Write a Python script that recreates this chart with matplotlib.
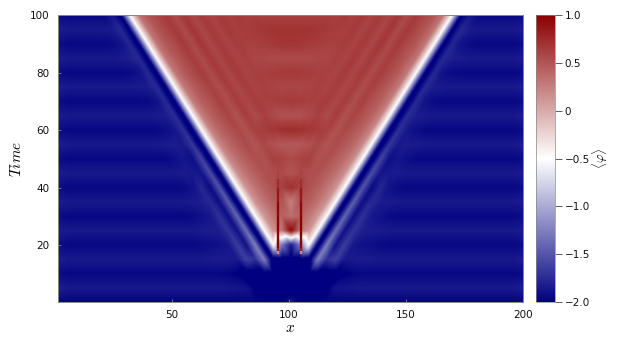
import numpy as np
import matplotlib
matplotlib.use("Agg")
import matplotlib.pyplot as plt
from matplotlib.collections import LineCollection
from matplotlib.colors import LinearSegmentedColormap, Normalize
from matplotlib.tri import Triangulation, LinearTriInterpolator

times = [100, 95, 90, 85, 80, 75, 70, 65, 60, 55, 50, 45, 40, 35, 30, 25, 20, 15, 10, 5, 0]
# left half of the symmetric field, x from 1 to 100.5 (27 columns)
field_left = [
 [-1.93,-1.95,-1.95,-1.95,-1.95,-1.95,-1.86,-2.05,-.5,.32,.5,.58,.66,.56,.68,.58,.66,.6,.66,.62,.66,.62,.64,.62,.62,.62,.62],
 [-1.82,-1.85,-1.85,-1.85,-1.85,-1.85,-1.84,-1.76,-2.05,-.5,.3,.48,.58,.66,.56,.68,.58,.66,.6,.66,.62,.64,.66,.68,.7,.7,.7],
 [-1.93,-1.95,-1.95,-1.95,-1.95,-1.95,-1.94,-1.9,-1.78,-2.08,-.5,.3,.48,.56,.66,.56,.68,.58,.66,.6,.64,.62,.62,.64,.66,.68,.68],
 [-1.82,-1.85,-1.85,-1.85,-1.85,-1.85,-1.85,-1.84,-1.82,-1.76,-2.08,-.5,.3,.46,.56,.64,.56,.66,.58,.66,.6,.62,.58,.58,.56,.56,.56],
 [-1.93,-1.95,-1.95,-1.95,-1.95,-1.95,-1.95,-1.95,-1.94,-1.9,-1.77,-2.1,-.5,.28,.46,.56,.64,.56,.66,.58,.66,.6,.62,.62,.64,.66,.66],
 [-1.82,-1.85,-1.85,-1.85,-1.85,-1.85,-1.85,-1.85,-1.85,-1.84,-1.84,-1.75,-2.1,-.5,.28,.44,.54,.62,.54,.64,.58,.64,.6,.62,.6,.58,.58],
 [-1.93,-1.95,-1.95,-1.95,-1.95,-1.95,-1.95,-1.95,-1.95,-1.95,-1.94,-1.9,-1.76,-2.12,-.5,.26,.44,.52,.62,.54,.64,.58,.64,.62,.62,.64,.66],
 [-1.82,-1.85,-1.85,-1.85,-1.85,-1.85,-1.85,-1.85,-1.85,-1.85,-1.85,-1.84,-1.83,-1.74,-2.12,-.5,.24,.42,.52,.6,.52,.64,.56,.62,.56,.52,.52],
 [-1.93,-1.95,-1.95,-1.95,-1.95,-1.95,-1.95,-1.95,-1.95,-1.95,-1.95,-1.95,-1.92,-1.87,-1.72,-2.15,-.5,.22,.4,.5,.58,.52,.62,.64,.68,.72,.74],
 [-1.82,-1.85,-1.85,-1.85,-1.85,-1.85,-1.85,-1.85,-1.85,-1.85,-1.85,-1.85,-1.84,-1.83,-1.85,-1.68,-2.15,-.5,.2,.38,.48,.56,.5,.58,.52,.48,.48],
 [-1.93,-1.95,-1.95,-1.95,-1.95,-1.95,-1.95,-1.95,-1.95,-1.95,-1.95,-1.95,-1.95,-1.92,-1.87,-1.92,-1.6,-2.18,-.5,.18,.36,.46,.54,.52,.62,.6,.56],
 [-1.82,-1.85,-1.85,-1.85,-1.85,-1.85,-1.85,-1.85,-1.85,-1.85,-1.85,-1.85,-1.85,-1.85,-1.84,-1.85,-1.88,-1.55,-2.18,-.5,.16,.34,.44,.52,.54,.56,.5],
 [-1.93,-1.95,-1.95,-1.95,-1.95,-1.95,-1.95,-1.95,-1.95,-1.95,-1.95,-1.95,-1.95,-1.95,-1.94,-1.9,-1.78,-1.94,-1.5,-2.2,-.5,.14,.32,.44,.52,.62,.72],
 [-1.82,-1.85,-1.85,-1.85,-1.85,-1.85,-1.85,-1.85,-1.85,-1.85,-1.85,-1.85,-1.85,-1.85,-1.85,-1.84,-1.83,-1.76,-1.92,-1.45,-2.2,-.5,.14,.32,.44,.5,.25],
 [-1.93,-1.95,-1.95,-1.95,-1.95,-1.95,-1.95,-1.95,-1.95,-1.95,-1.95,-1.95,-1.95,-1.95,-1.95,-1.94,-1.9,-1.86,-1.72,-1.92,-1.4,-2.2,-.5,.1,.3,.42,.35],
 [-1.82,-1.85,-1.85,-1.85,-1.85,-1.85,-1.85,-1.85,-1.85,-1.85,-1.85,-1.85,-1.85,-1.85,-1.85,-1.85,-1.84,-1.83,-1.82,-1.7,-1.9,-1.35,-2.2,-.5,.14,.32,.95],
 [-1.93,-1.95,-1.95,-1.95,-1.95,-1.95,-1.95,-1.95,-1.95,-1.95,-1.95,-1.95,-1.95,-1.95,-1.95,-1.95,-1.94,-1.92,-1.9,-1.86,-1.65,-1.9,-1.25,-2.2,-.5,-1.3,-1.85],
 [-1.82,-1.85,-1.85,-1.85,-1.85,-1.85,-1.85,-1.85,-1.85,-1.85,-1.85,-1.85,-1.85,-1.85,-1.85,-1.85,-1.85,-1.84,-1.83,-1.84,-1.85,-1.62,-1.72,-1.25,-2.2,-2.1,-2.1],
 [-1.93,-1.95,-1.95,-1.95,-1.95,-1.95,-1.95,-1.95,-1.95,-1.95,-1.95,-1.95,-1.95,-1.95,-1.95,-1.95,-1.95,-1.95,-1.95,-1.97,-2.0,-2.1,-2.1,-2.1,-2.1,-2.1,-2.1],
 [-1.82,-1.85,-1.85,-1.85,-1.85,-1.85,-1.85,-1.85,-1.85,-1.85,-1.85,-1.85,-1.85,-1.85,-1.85,-1.85,-1.85,-1.85,-1.85,-1.86,-1.87,-1.88,-2.0,-2.1,-2.1,-2.1,-2.1],
 [-1.96,-1.98,-1.98,-1.98,-1.98,-1.98,-1.98,-1.98,-1.98,-1.98,-1.98,-1.98,-1.98,-1.98,-1.98,-1.98,-1.98,-1.98,-1.98,-1.98,-1.98,-1.98,-1.98,-2.0,-2.0,-2.0,-1.88],
]
# thin vertical spikes
spike_positions = [95.2, 105.2]
spike_times = [17, 18, 19, 20, 25, 30, 35, 40, 43, 46]
spike_values = [-0.5, 0.2, 0.8, 0.95, 1.0, 1.0, 0.95, 0.85, 0.72, 0.6]

x_ticks = [50, 100, 150, 200]
y_ticks = [20, 40, 60, 80, 100]
bar_ticks = [1.0, 0.5, 0, -0.5, -1.0, -1.5, -2.0]
bar_labels = ["1.0", "0.5", "0", "\u22120.5", "\u22121.0", "\u22121.5", "\u22122.0"]

plt.rcParams["mathtext.fontset"] = "cm"
plt.rcParams["font.family"] = "DejaVu Sans"

W, H = 634, 347
fig = plt.figure(figsize=(W / 100, H / 100), dpi=100)
ax = fig.add_axes([57.5 / W, 45 / H, 465.5 / W, 287 / H])
cax = fig.add_axes([536 / W, 45 / H, 19 / W, 287 / H])

cmap = LinearSegmentedColormap.from_list("nwr", ["#000080", "#ffffff", "#8b0000"], N=512)
norm = Normalize(-2, 1)

left = np.array(field_left, dtype=float)
Z = np.hstack([left, left[:, -2::-1]])
T = np.array(times, dtype=float)
nrow, ncol = Z.shape
X = np.linspace(1, 200, ncol)
XX, TT = np.meshgrid(X, T)

tris = []
for i in range(nrow - 1):
    for j in range(ncol - 1):
        a, b = i * ncol + j, i * ncol + j + 1
        c, d = (i + 1) * ncol + j, (i + 1) * ncol + j + 1
        if j < ncol // 2:      # split along the front direction
            tris += [[a, d, b], [a, c, d]]
        else:
            tris += [[a, c, b], [b, c, d]]
tri = Triangulation(XX.ravel(), TT.ravel(), np.array(tris))
interp = LinearTriInterpolator(tri, Z.ravel())
gx, gt = np.meshgrid(np.linspace(1, 200, 932), np.linspace(0.2, 100, 574))
img = np.ma.filled(interp(gx, gt), -2.0)

im = ax.imshow(img, origin="lower", extent=[1, 200, 0.2, 100], aspect="auto",
               cmap=cmap, norm=norm, interpolation="bilinear")

for sx in spike_positions:
    pts = np.column_stack([np.full(len(spike_times), sx), spike_times])
    segs = np.stack([pts[:-1], pts[1:]], axis=1)
    lc = LineCollection(segs, cmap=cmap, norm=norm, linewidths=1.7, capstyle="butt")
    lc.set_array(np.array(spike_values[1:]))
    ax.add_collection(lc)

ax.set_xlim(1, 200)
ax.set_ylim(0.2, 100)
ax.set_xticks(x_ticks)
ax.set_yticks(y_ticks)
ax.tick_params(axis="both", direction="in", length=2, width=0.5, color="#999999",
               labelsize=7.5, labelcolor="#111111", pad=6)
for s in ax.spines.values():
    s.set_color("#888888")
    s.set_linewidth(0.7)
ax.set_xlabel(r"$x$", fontsize=11, va="center")
ax.xaxis.set_label_coords(0.5, -0.09)
ax.set_ylabel(r"$Time$", fontsize=11, va="center")
ax.yaxis.set_label_coords(-0.089, 0.5)

cb = fig.colorbar(im, cax=cax)
cb.set_ticks(bar_ticks)
cb.set_ticklabels(bar_labels)
cb.ax.tick_params(direction="out", length=5, width=0.6, color="#444444",
                  labelsize=7.5, labelcolor="#111111", pad=2)
cb.outline.set_edgecolor("#888888")
cb.outline.set_linewidth(0.5)
fig.text(600 / W, 1 - 158 / H, r"$\langle\varphi\rangle$", rotation=90,
         fontsize=9.5, ha="center", va="center")

fig.savefig("out.png", dpi=100, facecolor="white")
